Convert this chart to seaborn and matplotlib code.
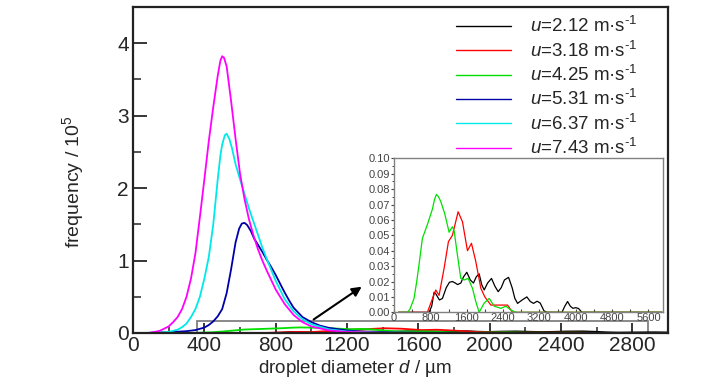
import numpy as np
import pandas as pd
import matplotlib
matplotlib.use("Agg")
import matplotlib.pyplot as plt
import matplotlib.patches as patches
from matplotlib.ticker import MultipleLocator, FormatStrFormatter
import seaborn as sns

# ── Data ─────────────────────────────────────────────────────────────────────
labels = ["2.12", "3.18", "4.25", "5.31", "6.37", "7.43"]
colors = ["#000000", "#ff0000", "#00e000", "#0000a8", "#00e8e8", "#ff00ff"]

# u = 7.43 m/s
d_743 = [80, 100, 150, 200, 225, 250, 275, 300, 325, 350, 375, 400, 425, 450,
         475, 490, 500, 510, 525, 550, 575, 600, 625, 650, 675, 700, 725, 750,
         800, 850, 900, 950, 1000, 1100, 1200, 1400, 1600, 2000, 2400]
f_743 = [0, 0.005, 0.03, 0.09, 0.15, 0.22, 0.33, 0.5, 0.75, 1.1, 1.6, 2.12,
         2.65, 3.12, 3.55, 3.76, 3.82, 3.8, 3.68, 3.2, 2.68, 2.2, 1.85, 1.57,
         1.35, 1.16, 1.0, 0.86, 0.6, 0.4, 0.25, 0.15, 0.09, 0.035, 0.015, 0.003,
         0.001, 0, 0]

# u = 6.37 m/s
d_637 = [80, 100, 150, 200, 250, 275, 300, 325, 350, 375, 400, 425, 450, 475,
         490, 500, 515, 525, 540, 555, 575, 600, 625, 650, 675, 700, 725, 750,
         800, 850, 900, 950, 1000, 1100, 1200, 1400, 1600, 2000, 2400]
f_637 = [0, 0.002, 0.006, 0.015, 0.045, 0.08, 0.13, 0.22, 0.33, 0.5, 0.75,
         1.05, 1.5, 2.12, 2.45, 2.6, 2.73, 2.75, 2.68, 2.55, 2.33, 2.12, 1.92,
         1.72, 1.54, 1.36, 1.18, 1.02, 0.72, 0.47, 0.3, 0.19, 0.12, 0.05, 0.02,
         0.004, 0.001, 0, 0]

# u = 5.31 m/s
d_531 = [80, 100, 200, 300, 350, 400, 425, 450, 475, 500, 525, 550, 575, 595,
         610, 625, 640, 660, 680, 700, 725, 750, 775, 800, 825, 850, 875, 900,
         950, 1000, 1050, 1100, 1200, 1300, 1400, 1600, 2000, 2400]
f_531 = [0, 0.003, 0.01, 0.025, 0.04, 0.075, 0.11, 0.16, 0.23, 0.33, 0.55,
         0.88, 1.25, 1.44, 1.51, 1.52, 1.49, 1.41, 1.3, 1.22, 1.12, 1.01, 0.91,
         0.8, 0.68, 0.56, 0.45, 0.35, 0.22, 0.15, 0.1, 0.07, 0.035, 0.015,
         0.008, 0.003, 0, 0]

# u = 4.25 m/s
d_425 = [100, 200, 294, 350, 441, 500, 551, 625, 735, 845, 890, 933, 980, 1029,
         1117, 1213, 1286, 1323, 1397, 1470, 1544, 1632, 1727, 1800, 1874, 1985,
         2095, 2205, 2352, 2462, 2573, 2683, 5900]
f_425 = [0, 0, 0, 0.002, 0.009, 0.02, 0.031, 0.048, 0.057, 0.067, 0.073,
         0.0766, 0.075, 0.072, 0.064, 0.052, 0.0556, 0.053, 0.037, 0.022, 0.021,
         0.022, 0.0156, 0.007, 0, 0.006, 0.009, 0.004, 0.0026, 0.004, 0.0015,
         0, 0]

# u = 3.18 m/s
d_318 = [100, 735, 823, 919, 992, 1103, 1198, 1286, 1411, 1507, 1617, 1705,
         1800, 1911, 1999, 2132, 2499, 2609, 5900]
f_318 = [0, 0, 0.007, 0.0145, 0.011, 0.0286, 0.0459, 0.050, 0.0653, 0.0588,
         0.040, 0.0448, 0.033, 0.0156, 0.010, 0.0047, 0.0047, 0, 0]

# u = 2.12 m/s
d_212 = [100, 772, 830, 882, 920, 1000, 1066, 1150, 1220, 1286, 1350, 1400,
         1470, 1530, 1602, 1680, 1749, 1810, 1874, 1930, 1985, 2060, 2146, 2220,
         2293, 2360, 2430, 2521, 2600, 2660, 2720, 2820, 2924, 3000, 3071, 3150,
         3218, 3300, 3365, 3696, 3760, 3820, 3880, 3938, 4000, 4060, 4136, 5900]
f_212 = [0, 0, 0.004, 0.013, 0.012, 0.008, 0.009, 0.016, 0.0195, 0.020, 0.019,
         0.018, 0.019, 0.023, 0.026, 0.021, 0.019, 0.023, 0.025, 0.018, 0.0145,
         0.019, 0.022, 0.017, 0.0134, 0.016, 0.021, 0.0227, 0.016, 0.009,
         0.0058, 0.008, 0.010, 0.007, 0.0058, 0.0072, 0.006, 0.001, 0, 0, 0.004,
         0.007, 0.004, 0.0026, 0.003, 0.0025, 0, 0]

series = {
    "2.12": (d_212, f_212),
    "3.18": (d_318, f_318),
    "4.25": (d_425, f_425),
    "5.31": (d_531, f_531),
    "6.37": (d_637, f_637),
    "7.43": (d_743, f_743),
}


def legend_name(u):
    return r"$\it{u}$=" + u + r" m·s$^{\text{-1}}$"


rows = []
for u in labels:
    xs, ys = series[u]
    for x, y in zip(xs, ys):
        rows.append((x, y, legend_name(u)))
df = pd.DataFrame(rows, columns=["d", "freq", "u"])
names = [legend_name(u) for u in labels]
palette = dict(zip(names, colors))

# ── Style ────────────────────────────────────────────────────────────────────
sns.set_style("ticks")
plt.rcParams["font.family"] = ["Liberation Sans", "DejaVu Sans"]
plt.rcParams["mathtext.fontset"] = "custom"
plt.rcParams["mathtext.rm"] = "Liberation Sans"
plt.rcParams["mathtext.it"] = "Liberation Sans:italic"

fig = plt.figure(figsize=(7.28, 3.90), dpi=100)
ax = fig.add_axes([0.1827, 0.1462, 0.735, 0.836])

sns.lineplot(data=df, x="d", y="freq", hue="u", hue_order=names,
             palette=palette, estimator=None, sort=False, lw=1.3, ax=ax)

ax.set_xlim(0, 3000)
ax.set_ylim(0, 4.5)
ax.xaxis.set_major_locator(MultipleLocator(400))
ax.xaxis.set_minor_locator(MultipleLocator(200))
ax.yaxis.set_major_locator(MultipleLocator(1))
ax.yaxis.set_minor_locator(MultipleLocator(0.5))
ax.tick_params(axis="x", which="major", direction="in", length=7, width=1.3,
               labelsize=15, pad=2)
ax.tick_params(axis="x", which="minor", direction="in", length=4, width=1.1)
ax.tick_params(axis="y", which="major", direction="in", length=10, width=1.3,
               labelsize=15, pad=3)
ax.tick_params(axis="y", which="minor", direction="in", length=6, width=1.1)
for s in ax.spines.values():
    s.set_linewidth(1.6)
    s.set_color("#222222")

ax.set_xlabel(r"droplet diameter $\it{d}$ / µm", fontsize=13.5)
ax.xaxis.set_label_coords(0.415, -0.077)
ax.set_ylabel(r"frequency / 10$^{5}$", fontsize=14)
ax.yaxis.set_label_coords(-0.088, 0.465)

leg = ax.legend(frameon=False, loc="upper right", bbox_to_anchor=(0.957, 0.994),
                fontsize=13.5, handlelength=2.95, handletextpad=1.0,
                labelspacing=0.225, borderaxespad=0, borderpad=0.4)
for line in leg.get_lines():
    line.set_linewidth(1.0)

# zoom box and arrow
ax.add_patch(patches.Rectangle((360, 0), 2530, 0.165, fill=False,
                               edgecolor="#808080", lw=1.3, clip_on=False))
ax.annotate("", xy=(1295, 0.66), xytext=(1000, 0.165),
            arrowprops=dict(arrowstyle="-|>", color="black", lw=1.5,
                            mutation_scale=14))

# ── Inset ────────────────────────────────────────────────────────────────────
axin = fig.add_axes([0.5412, 0.1992, 0.3695, 0.3949])
small = names[:3]
sns.lineplot(data=df[df["u"].isin(small)], x="d", y="freq", hue="u",
             hue_order=small, palette=palette, estimator=None, sort=False,
             lw=0.9, legend=False, ax=axin)
axin.set_xlim(0, 5920)
axin.set_ylim(0, 0.10)
axin.xaxis.set_major_locator(MultipleLocator(800))
axin.xaxis.set_minor_locator(MultipleLocator(400))
axin.yaxis.set_major_locator(MultipleLocator(0.01))
axin.yaxis.set_minor_locator(MultipleLocator(0.005))
axin.yaxis.set_major_formatter(FormatStrFormatter("%.2f"))
axin.tick_params(axis="x", which="both", direction="in", length=2.5, width=0.8,
                 labelsize=8, pad=0.5, colors="#444444")
axin.tick_params(axis="y", which="major", direction="out", length=2.5,
                 width=0.8, labelsize=8, pad=0.5, colors="#444444")
axin.tick_params(axis="y", which="minor", direction="out", length=1.5,
                 width=0.6)
axin.set_xlabel("")
axin.set_ylabel("")
for s in axin.spines.values():
    s.set_linewidth(1.0)
    s.set_color("#808080")

fig.savefig("out.png", dpi=100)
